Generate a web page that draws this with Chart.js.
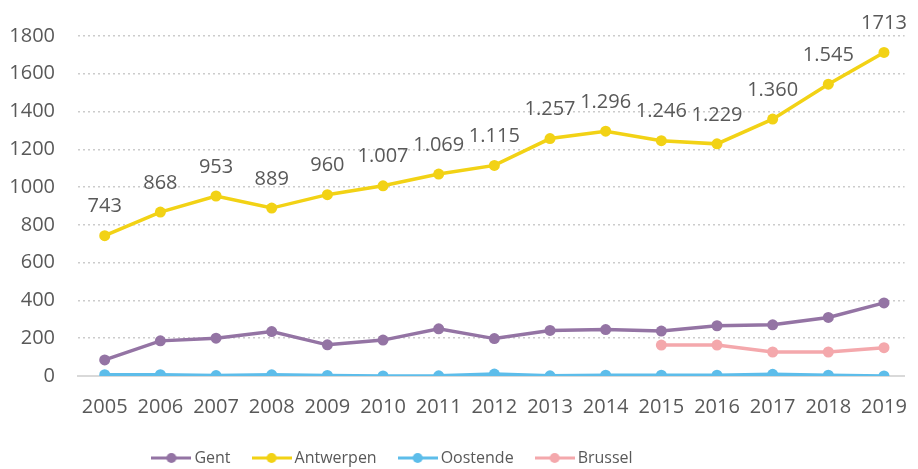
<!DOCTYPE html>
<html>
<head>
<meta charset="utf-8">
<script src="https://cdn.jsdelivr.net/npm/chart.js@4/dist/chart.umd.min.js"></script>
<style>
  body { margin: 0; background: #fff; }
  #wrap { width: 918px; height: 469px; position: relative; }
</style>
</head>
<body>
<div id="wrap"><canvas id="grafiek"></canvas></div>
<script>
const jaren = [2005, 2006, 2007, 2008, 2009, 2010, 2011, 2012, 2013, 2014, 2015, 2016, 2017, 2018, 2019];
const gent = [85, 186, 200, 235, 165, 190, 250, 198, 241, 246, 238, 266, 271, 310, 387];
const antwerpen = [743, 868, 953, 889, 960, 1007, 1069, 1115, 1257, 1296, 1246, 1229, 1360, 1545, 1713];
const antwerpenLabels = ["743", "868", "953", "889", "960", "1.007", "1.069", "1.115", "1.257", "1.296", "1.246", "1.229", "1.360", "1.545", "1713"];
const oostende = [7, 7, 2, 6, 3, 0, 1, 10, 1, 4, 4, 4, 9, 4, 0];
const brussel = [null, null, null, null, null, null, null, null, null, null, 164, 164, 127, 127, 150];
const yTicks = [0, 200, 400, 600, 800, 1000, 1200, 1400, 1600, 1800];

const kleuren = {
    gent: "#9474a4",
    antwerpen: "#f2d215",
    oostende: "#5dbdea",
    brussel: "#f4a8ac"
};

function punten(waarden) {
    return jaren.map(function (j, i) { return { x: j, y: waarden[i] }; });
}

// klein icoontje voor de legende: lijn met bolletje
function legendeIcoon(kleur) {
    const c = document.createElement("canvas");
    c.width = 40;
    c.height = 12;
    const ctx = c.getContext("2d");
    ctx.strokeStyle = kleur;
    ctx.lineWidth = 3;
    ctx.beginPath();
    ctx.moveTo(0, 6);
    ctx.lineTo(40, 6);
    ctx.stroke();
    ctx.fillStyle = kleur;
    ctx.beginPath();
    ctx.arc(20, 6, 5, 0, Math.PI * 2);
    ctx.fill();
    return c;
}

const labelPlugin = {
    id: "waardeLabels",
    afterDatasetsDraw(chart) {
        const meta = chart.getDatasetMeta(1);
        const ctx = chart.ctx;
        ctx.save();
        ctx.font = "20px 'Open Sans'";
        ctx.fillStyle = "#595959";
        ctx.textAlign = "center";
        ctx.textBaseline = "middle";
        meta.data.forEach(function (pt, i) {
            ctx.fillText(antwerpenLabels[i], pt.x, pt.y - 29);
        });
        ctx.restore();
    }
};

// legende staat in het origineel wat links van het midden
const legendeSchuif = {
    id: "legendeSchuif",
    afterLayout(chart) {
        chart.legend.left -= 64;
        chart.legend.right -= 64;
    }
};

function reeks(naam, waarden, kleur) {
    return {
        label: naam,
        data: punten(waarden),
        borderColor: kleur,
        backgroundColor: kleur,
        borderWidth: 3.5,
        pointRadius: 5.5,
        pointHoverRadius: 5.5,
        pointStyle: "circle",
        pointBorderWidth: 0,
        legendIcon: legendeIcoon(kleur),
        spanGaps: false
    };
}

const datasets = [
    reeks("Gent", gent, kleuren.gent),
    reeks("Antwerpen", antwerpen, kleuren.antwerpen),
    reeks("Oostende", oostende, kleuren.oostende),
    reeks("Brussel", brussel, kleuren.brussel)
];

new Chart(document.getElementById("grafiek"), {
    type: "line",
    data: { datasets: datasets },
    options: {
        responsive: true,
        maintainAspectRatio: false,
        animation: false,
        layout: { padding: { top: 36, right: 1, bottom: -7, left: 0 } },
        scales: {
            x: {
                type: "linear",
                min: 2004.52,
                max: 2019.37,
                afterFit: function (s) { s.height = 48; },
                grid: { display: false },
                border: { display: true, color: "#d9d9d9", width: 2 },
                ticks: {
                    stepSize: 1,
                    includeBounds: false,
                    padding: 11,
                    color: "#595959",
                    font: { family: "'Open Sans'", size: 20 },
                    callback: function (v) { return String(v); }
                }
            },
            y: {
                min: 0,
                max: 1800,
                afterFit: function (s) { s.width = 78; },
                afterBuildTicks: function (s) { s.ticks = yTicks.map(function (v) { return { value: v }; }); },
                grid: { color: "#cccccc", lineWidth: 1.5, drawTicks: false },
                border: { display: false, dash: [2, 3] },
                ticks: {
                    padding: 23,
                    color: "#595959",
                    font: { family: "'Open Sans'", size: 20 },
                    callback: function (v) { return String(v); }
                }
            }
        },
        plugins: {
            tooltip: { enabled: false },
            legend: {
                position: "bottom",
                labels: {
                    usePointStyle: true,
                    pointStyleWidth: 30,
                    padding: 26,
                    color: "#595959",
                    font: { family: "'Open Sans'", size: 16 },
                    generateLabels: function (chart) {
                        return chart.data.datasets.map(function (d, i) {
                            return {
                                text: d.label,
                                pointStyle: d.legendIcon,
                                fillStyle: d.borderColor,
                                strokeStyle: d.borderColor,
                                lineWidth: 0,
                                fontColor: "#595959",
                                datasetIndex: i,
                                hidden: false
                            };
                        });
                    }
                }
            }
        }
    },
    plugins: [labelPlugin, legendeSchuif]
});
</script>
</body>
</html>
